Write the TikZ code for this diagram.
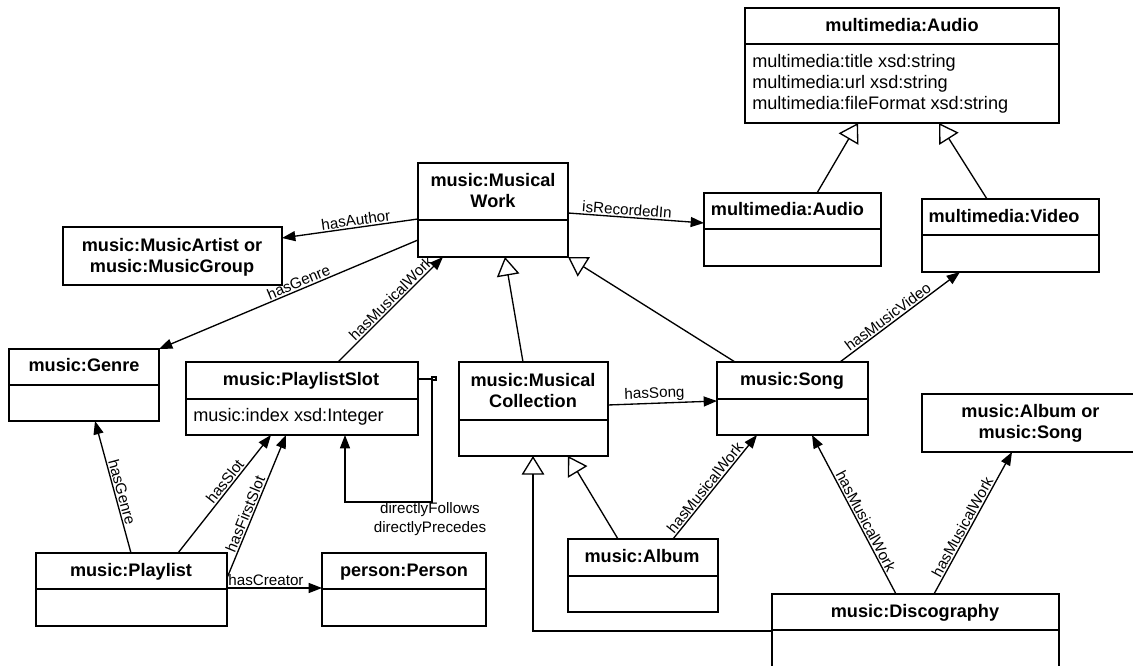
\documentclass[tikz,border=0pt]{standalone}
\usepackage{fontspec}
\setmainfont{Liberation Sans}
\usetikzlibrary{arrows.meta}

% class box: name, left, top, right, bottom (pixel grid, y downwards)
\newcommand\umlclass[5]{%
  \node[cls, minimum width={(#4-#2)*0.75pt}, minimum height={(#5-#3)*0.75pt}] (#1) at (#2,#3) {};}
% compartment divider of a class box at height #2
\newcommand\umldivider[2]{\draw[divl] (#1.west |- 0,#2) -- (#1.east |- 0,#2);}

\tikzset{
  cls/.style={draw, line width=1pt, anchor=north west, inner sep=0pt, outer sep=0pt},
  divl/.style={line width=1pt},
  ttl/.style={font=\fontsize{13.6}{15.75}\selectfont\bfseries, align=center, inner sep=0pt},
  attr/.style={font=\fontsize{13.6}{15.75}\selectfont, align=left, anchor=base west, inner sep=0pt},
  lbl/.style={font=\fontsize{11.4}{14.25}\selectfont, inner sep=1pt},
  assoc/.style={draw, line width=1pt, -{Triangle[length=10pt,width=7.5pt]}},
  gen/.style={draw, line width=1pt, -{Triangle[open,fill=white,length=14pt,width=17pt]}},
}

\begin{document}
\begin{tikzpicture}[x=0.75pt, y=-0.75pt]
\clip (0,0) rectangle (1133,666);
\fill[white] (0,0) rectangle (1133,666);

% ---- classes ----
\umlclass{topaudio}{745}{8}{1059}{123}   \umldivider{topaudio}{44}
\umlclass{mw}{418}{163}{568}{257}        \umldivider{mw}{220}
\umlclass{audio}{704}{193}{881}{266}     \umldivider{audio}{229}
\umlclass{video}{922}{199}{1099}{272}    \umldivider{video}{235}
\umlclass{ma}{63}{227}{282}{285}
\umlclass{genre}{9}{349}{159}{421}       \umldivider{genre}{385}
\umlclass{ps}{186}{362}{418}{435}        \umldivider{ps}{399}
\umlclass{mc}{459}{362}{608}{456}        \umldivider{mc}{420}
\umlclass{song}{717}{362}{868}{435}      \umldivider{song}{399}
\umlclass{aos}{922}{394}{1140}{452}
\umlclass{album}{568}{539}{718}{612}     \umldivider{album}{576}
\umlclass{playlist}{36}{553}{227}{626}   \umldivider{playlist}{589}
\umlclass{person}{322}{553}{486}{626}    \umldivider{person}{589}
\umlclass{disc}{772}{594}{1059}{690}     \umldivider{disc}{630}

% ---- class names and attributes ----
\node[ttl, anchor=base] (topaudio-t) at (902,32) {multimedia:Audio};
\node[attr] (topaudio-a) at (752,110) {multimedia:title xsd:string\\multimedia:url xsd:string\\multimedia:fileFormat xsd:string};
\node[ttl] (mw-t) at (493,191) {music:Musical\\Work};
\node[ttl, anchor=base] (audio-t) at (787.5,216) {multimedia:Audio};
\node[ttl, anchor=base] (video-t) at (1004,223) {multimedia:Video};
\node[ttl] (ma-t) at (172,257) {music:MusicArtist or\\music:MusicGroup};
\node[ttl, anchor=base] (genre-t) at (84,372) {music:Genre};
\node[ttl, anchor=base] (ps-t) at (301,386) {music:PlaylistSlot};
\node[attr] (ps-a) at (193,422) {music:index xsd:Integer};
\node[ttl] (mc-t) at (533,391) {music:Musical\\Collection};
\node[ttl, anchor=base] (song-t) at (792,386) {music:Song};
\node[ttl] (aos-t) at (1030.5,423) {music:Album or\\music:Song};
\node[ttl, anchor=base] (album-t) at (642,563) {music:Album};
\node[ttl, anchor=base] (playlist-t) at (131,577) {music:Playlist};
\node[ttl, anchor=base] (person-t) at (404,577) {person:Person};
\node[ttl, anchor=base] (disc-t) at (915,618) {music:Discography};

% ---- generalizations ----
\draw[gen] (audio.north -| 817,0) -- (topaudio.south -| 858,0);
\draw[gen] (video.north -| 987,0) -- (topaudio.south -| 939,0);
\draw[gen] (mc.north -| 523,0) -- (mw.south -| 505,0);
\draw[gen] (song.north -| 735,0) -- (mw.south east);
\draw[gen] (album.north -| 618,0) -- (mc.south -| 568,0);
\draw[gen] (disc.west |- 0,631) -| (mc.south -| 533,0);

% ---- associations ----
\draw[assoc] (mw.west |- 0,219) -- node[lbl, sloped, above, pos=0.45] (l-author) {hasAuthor} (ma.east |- 0,238);
\draw[assoc] (mw.west |- 0,240) -- node[lbl, sloped, above, pos=0.45] (l-genre1) {hasGenre} (genre.north east);
\draw[assoc] (ps.north -| 338,0) -- node[lbl, sloped, above, pos=0.555] (l-psmw) {hasMusicalWork} (mw.south -| 443,0);
\draw[assoc] (mw.east |- 0,213) -- node[lbl, sloped, above, pos=0.43] (l-rec) {isRecordedIn} (audio.west |- 0,223);
\draw[assoc] (song.north -| 840,0) -- node[lbl, sloped, above, pos=0.436] (l-video) {hasMusicVideo} (video.south -| 960,0);
\draw[assoc] (mc.east |- 0,405) -- node[lbl, sloped, above, pos=0.43] (l-song) {hasSong} (song.west |- 0,401);
\draw[assoc] (playlist.north -| 131,0) -- node[lbl, sloped, above, pos=0.447] (l-genre2) {hasGenre} (genre.south -| 95,0);
\draw[assoc] (playlist.north -| 178,0) -- node[lbl, sloped, above, pos=0.568] (l-slot) {hasSlot} (ps.south -| 271,0);
\draw[assoc] (playlist.east |- 0,578) -- node[lbl, sloped, above, pos=0.427] (l-first) {hasFirstSlot} (ps.south -| 286,0);
\draw[assoc] (playlist.east |- 0,588) -- node[lbl, above, pos=0.41] (l-creator) {hasCreator} (person.west |- 0,588);
\draw[assoc] (album.north -| 673,0) -- node[lbl, sloped, above, pos=0.45] (l-albsong) {hasMusicalWork} (song.south -| 757,0);
\draw[assoc] (disc.north -| 896,0) -- node[lbl, sloped, above, pos=0.436] (l-discsong) {hasMusicalWork} (song.south -| 812,0);
\draw[assoc] (disc.north -| 934,0) -- node[lbl, sloped, above, pos=0.448] (l-discaos) {hasMusicalWork} (aos.south -| 1012,0);

% ---- slot ordering self-association ----
\coordinate (loopcorner) at (432,502);
\draw[assoc] (ps.east |- 0,379) -| (loopcorner) -| (ps.south -| 345,0);
\draw[line width=0.8pt] (432,377) rectangle (436,380);
\node[lbl, align=center] (l-loop) at (430,519.5) {directlyFollows\\directlyPrecedes};
\end{tikzpicture}
\end{document}
